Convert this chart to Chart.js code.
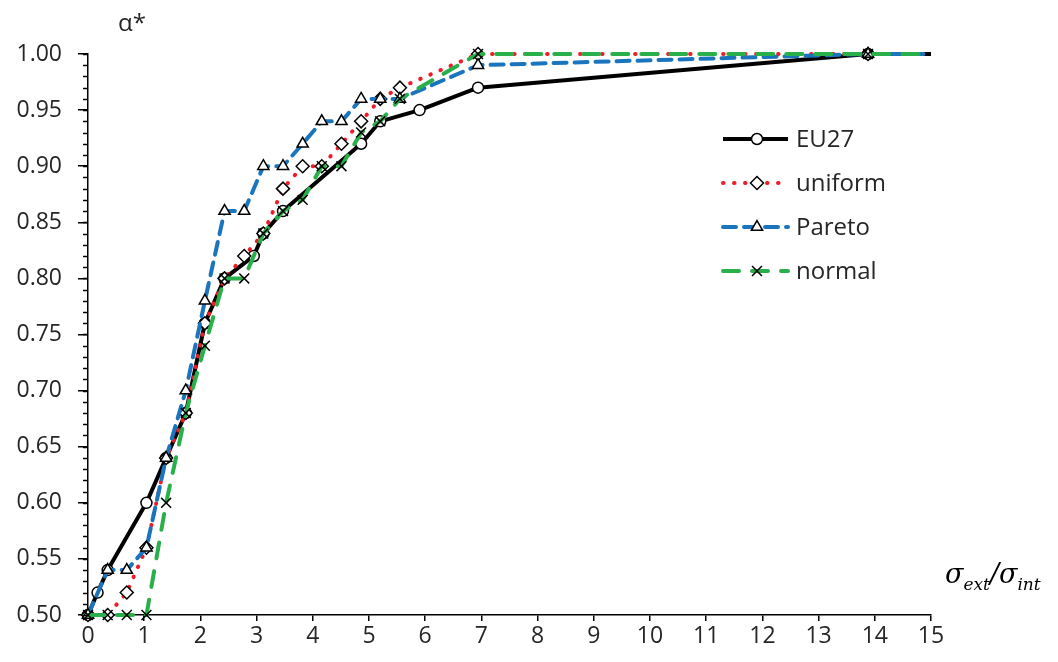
<!DOCTYPE html>
<html>
<head>
<meta charset="utf-8">
<script src="https://cdn.jsdelivr.net/npm/chart.js@4.4.1/dist/chart.umd.min.js"></script>
<style>
  html, body { margin: 0; padding: 0; background: #fff; }
  #wrap { width: 1058px; height: 662px; position: relative; }
</style>
</head>
<body>
<div id="wrap"><canvas id="alpha-chart"></canvas></div>
<script>
// sigma_ext / sigma_int values shared by the simulated distributions
const gridX = [0, 0.35, 0.69, 1.04, 1.39, 1.74, 2.08, 2.43, 2.78, 3.12, 3.47, 3.82, 4.16, 4.51, 4.86, 5.20, 5.55, 6.94, 13.88, 15];

const uniformY = [0.50, 0.50, 0.52, 0.56, 0.64, 0.68, 0.76, 0.80, 0.82, 0.84, 0.88, 0.90, 0.90, 0.92, 0.94, 0.96, 0.97, 1.00, 1.00, 1.00];
const paretoY  = [0.50, 0.54, 0.54, 0.56, 0.64, 0.70, 0.78, 0.86, 0.86, 0.90, 0.90, 0.92, 0.94, 0.94, 0.96, 0.96, 0.96, 0.99, 1.00, 1.00];
const normalY  = [0.50, 0.50, 0.50, 0.50, 0.60, 0.68, 0.74, 0.80, 0.80, 0.84, 0.86, 0.87, 0.90, 0.90, 0.93, 0.94, 0.96, 1.00, 1.00, 1.00];

// EU27 has its own x positions
const eu27X = [0, 0.17, 0.35, 1.04, 1.39, 1.74, 2.08, 2.43, 2.95, 3.12, 3.47, 4.86, 5.20, 5.90, 6.94, 13.88, 15];
const eu27Y = [0.50, 0.52, 0.54, 0.60, 0.64, 0.68, 0.76, 0.80, 0.82, 0.84, 0.86, 0.92, 0.94, 0.95, 0.97, 1.00, 1.00];

const seriesLabels = ['EU27', 'uniform', 'Pareto', 'normal'];
const xTicks = [0, 15, 1];        // min, max, step
const yTicks = [0.5, 1.0, 0.05];  // min, max, step
const yMinorStep = 0.01;

const FONT = '"Open Sans", "Liberation Sans", sans-serif';

function toPoints(xs, ys) {
  return xs.map((x, i) => ({ x: x, y: ys[i] }));
}

// hide the marker on the closing point at x = 15
function radiusFor(r) {
  return ctx => (ctx.raw && ctx.raw.x >= 15 ? 0 : r);
}

function makeSet(label, data, color, width, dash, style, radius, order) {
  return {
    label: label,
    data: data,
    borderColor: color,
    borderWidth: width,
    borderDash: dash,
    borderCapStyle: dash.length ? 'round' : 'butt',
    borderJoinStyle: 'round',
    pointStyle: style,
    pointRadius: radiusFor(radius),
    legendRadius: radius,
    pointBackgroundColor: '#fff',
    pointBorderColor: '#000',
    pointBorderWidth: 1.5,
    tension: 0,
    fill: false,
    clip: false,
    order: order,
  };
}

const datasets = [
  makeSet(seriesLabels[0], toPoints(eu27X, eu27Y), '#000000', 4, [], 'circle', 5.5, 3),
  makeSet(seriesLabels[1], toPoints(gridX, uniformY), '#ee1c25', 4, [0.5, 10.5], 'rectRot', 6.5, 2),
  makeSet(seriesLabels[2], toPoints(gridX, paretoY), '#1b75bc', 4, [13, 8], 'triangle', 6.5, 1),
  makeSet(seriesLabels[3], toPoints(gridX, normalY), '#2ab04a', 4, [16, 13], 'crossRot', 7, 0),
];

// minor ticks, axis titles and the legend inside the plot
const extras = {
  id: 'extras',
  afterDraw(chart) {
    const c = chart.ctx;
    const area = chart.chartArea;
    const yScale = chart.scales.y;

    // minor y ticks
    c.save();
    c.strokeStyle = '#000';
    c.lineWidth = 1.5;
    for (let v = yTicks[0]; v <= yTicks[1] + 1e-9; v += yMinorStep) {
      const py = Math.round(yScale.getPixelForValue(v)) + 0.5;
      c.beginPath();
      c.moveTo(area.left - 5, py);
      c.lineTo(area.left, py);
      c.stroke();
    }
    c.restore();

    // y title
    c.save();
    c.fillStyle = '#262626';
    c.font = '24px ' + FONT;
    c.textBaseline = 'alphabetic';
    c.fillText('α*', area.left + 30, 31);
    c.restore();

    // x title: sigma_ext / sigma_int
    c.save();
    c.fillStyle = '#000';
    let tx = area.right + 14;
    const base = area.bottom - 32;
    const parts = [
      ['σ', 27, 0], ['ext', 17, 7], ['/', 27, 0], ['σ', 27, 0], ['int', 17, 7],
    ];
    parts.forEach(p => {
      c.font = 'italic ' + p[1] + 'px "DejaVu Serif", serif';
      c.fillText(p[0], tx, base + p[2]);
      tx += c.measureText(p[0]).width;
    });
    c.restore();

    // legend
    const rowY = [85, 129, 173, 217];
    const lx0 = area.right - 208;
    const lx1 = area.right - 143;
    const mx = area.right - 174;
    chart.data.datasets.forEach((ds, i) => {
      const y = area.top + rowY[i];
      c.save();
      c.strokeStyle = ds.borderColor;
      c.lineWidth = ds.borderWidth;
      c.lineCap = ds.borderCapStyle;
      c.setLineDash(ds.borderDash);
      c.beginPath();
      c.moveTo(lx0, y);
      c.lineTo(lx1, y);
      c.stroke();
      c.restore();

      c.save();
      c.fillStyle = '#fff';
      c.strokeStyle = '#000';
      c.lineWidth = 1.5;
      Chart.helpers.drawPoint(c, {
        pointStyle: ds.pointStyle,
        radius: ds.legendRadius,
        rotation: 0,
        borderWidth: 1.5,
      }, mx, y);
      c.restore();

      c.save();
      c.fillStyle = '#262626';
      c.font = '24px ' + FONT;
      c.textBaseline = 'middle';
      c.fillText(ds.label, lx1 + 8, y + 1);
      c.restore();
    });
  }
};

function initAlphaChart() {
  const ctx = document.getElementById('alpha-chart');
  if (!ctx) return;

  const axisFont = { family: FONT, size: 23 };

  new Chart(ctx, {
    type: 'line',
    data: { datasets: datasets },
    options: {
      responsive: true,
      maintainAspectRatio: false,
      animation: false,
      devicePixelRatio: 1,
      layout: { padding: { top: 54, right: 127, left: 0, bottom: 0 } },
      plugins: {
        legend: { display: false },
        tooltip: { enabled: false },
      },
      scales: {
        x: {
          type: 'linear',
          min: xTicks[0],
          max: xTicks[1],
          ticks: {
            stepSize: xTicks[2],
            color: '#262626',
            font: axisFont,
            padding: 2,
            maxRotation: 0,
          },
          grid: { drawOnChartArea: false, tickLength: 6, color: '#000', lineWidth: 1.5 },
          border: { color: '#000', width: 1.5 },
          afterFit: s => { s.height = 47; },
        },
        y: {
          type: 'linear',
          min: yTicks[0],
          max: yTicks[1],
          ticks: {
            stepSize: yTicks[2],
            color: '#262626',
            font: axisFont,
            padding: 16,
            callback: v => Number(v).toFixed(2),
          },
          grid: { drawOnChartArea: false, tickLength: 10, color: '#000', lineWidth: 1.5 },
          border: { color: '#000', width: 1.5 },
          afterFit: s => { s.width = 88; },
        },
      },
    },
    plugins: [extras],
  });
}

initAlphaChart();
</script>
</body>
</html>
